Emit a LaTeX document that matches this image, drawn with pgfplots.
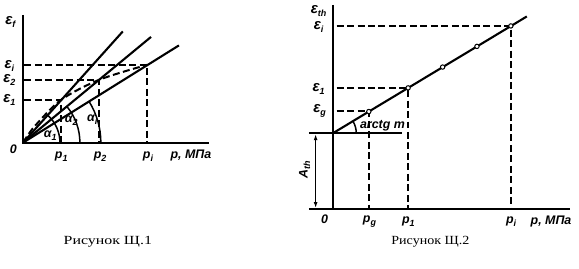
\documentclass[border=0pt]{standalone}
\usepackage{pgfplots}
\pgfplotsset{compat=1.18}
\usepackage{fontspec}
\setmainfont{Liberation Serif}
\newfontfamily\labfont{Liberation Sans}
\usetikzlibrary{arrows.meta}
\newcommand{\lb}[1]{{\labfont\bfseries\itshape\fontsize{12.5}{12.5}\selectfont #1}}
\newcommand{\eps}{{\fontsize{15}{15}\selectfont ε}}
\newcommand{\sub}[1]{\raisebox{-0.4ex}{\fontsize{9}{9}\selectfont #1}}
\newcommand{\capt}[2]{\scalebox{#1}[1]{\fontsize{12.5}{12.5}\selectfont #2}}
\begin{document}
\begin{tikzpicture}
\begin{axis}[
  width=579bp, height=269bp, scale only axis,
  xmin=0, xmax=579, ymin=0, ymax=269, y dir=reverse,
  hide axis, clip=false,
  solid line/.style={black, line width=2.1bp, line cap=butt},
  dsh/.style={black, line width=2bp, dash pattern=on 7bp off 3.5bp},
]
\path (axis cs:0,0) rectangle (axis cs:579,269);
% ---------- Figure 1 ----------
\addplot[solid line, line join=miter] coordinates {(21.7,15) (21.7,143.5) (208,143.5)};
\addplot[solid line] coordinates {(21.7,143) (121.7,31.5)};
\addplot[solid line] coordinates {(21.7,143) (150,37)};
\addplot[solid line] coordinates {(21.7,143) (178,45.5)};
\addplot[dsh, smooth] coordinates {(21.7,143) (33,127) (60,100) (98,80) (146,65)};
\addplot[dsh] coordinates {(23,100) (60,100) (60,143)};
\addplot[dsh] coordinates {(23,80) (98,80) (98,143)};
\addplot[dsh] coordinates {(23,65) (146,65) (146,143)};
\draw[line width=1.5bp] (axis cs:58.7,143) arc[start angle=0, end angle=48, radius=37bp];
\draw[line width=1.5bp] (axis cs:78.7,143) arc[start angle=0, end angle=39.5, radius=57bp];
\draw[line width=1.5bp] (axis cs:99.7,143) arc[start angle=0, end angle=32, radius=78bp];
\node at (axis cs:9,22) {\lb{\eps\sub{f}}};
\node at (axis cs:8,66) {\lb{\eps\sub{i}}};
\node at (axis cs:8,80) {\lb{\eps\sub{2}}};
\node at (axis cs:8,100) {\lb{\eps\sub{1}}};
\node at (axis cs:49,136) {\lb{α\sub{1}}};
\node at (axis cs:70,121) {\lb{α\sub{2}}};
\node at (axis cs:91,120) {\lb{α\sub{i}}};
\node at (axis cs:12,150) {\lb{0}};
\node at (axis cs:60,157) {\lb{p\sub{1}}};
\node at (axis cs:99,157) {\lb{p\sub{2}}};
\node at (axis cs:147,157) {\lb{p\sub{i}}};
\node at (axis cs:190,156) {\lb{p, МПа}};
\node at (axis cs:106.7,242) {\capt{1.28}{Рисунок Щ.1}};
% ---------- Figure 2 ----------
\addplot[solid line] coordinates {(332.7,5) (332.7,209.5)};
\addplot[solid line] coordinates {(308.3,209.5) (570,209.5)};
\addplot[solid line] coordinates {(308.3,133.3) (402,133.3)};
\addplot[black, line width=1.5bp, {Latex[length=6bp,width=4bp]}-{Latex[length=6bp,width=4bp]}] coordinates {(315,134.5) (315,208.5)};
\addplot[solid line] coordinates {(332.7,133.3) (526.7,16.5)};
\addplot[dsh] coordinates {(336,26) (510.7,26) (510.7,209)};
\addplot[dsh] coordinates {(336,88.5) (407.7,88.5) (407.7,209)};
\addplot[dsh] coordinates {(336,111.5) (368.3,111.5) (368.3,209)};
\addplot[only marks, mark=*, mark size=2.2bp, mark options={fill=white, draw=black, line width=1bp}] coordinates {(368.3,111.8) (407.7,88.1) (442.3,67.2) (476.7,46.5) (510.7,26)};
\draw[line width=1.5bp] (axis cs:355.7,133.3) arc[start angle=0, end angle=31, radius=23bp];
\node at (axis cs:318,11) {\lb{\eps\sub{th}}};
\node at (axis cs:318,27) {\lb{\eps\sub{i}}};
\node at (axis cs:318,89) {\lb{\eps\sub{1}}};
\node at (axis cs:319,111) {\lb{\eps\sub{g}}};
\node[rotate=90] at (axis cs:304,170) {\lb{A\sub{th}}};
\node at (axis cs:382,126) {\lb{arctg m}};
\node at (axis cs:324,220) {\lb{0}};
\node at (axis cs:369,222) {\lb{p\sub{g}}};
\node at (axis cs:408,222) {\lb{p\sub{1}}};
\node at (axis cs:511,222) {\lb{p\sub{i}}};
\node at (axis cs:551,222) {\lb{p, МПа}};
\node at (axis cs:430,242) {\capt{1.13}{Рисунок Щ.2}};
\end{axis}
\end{tikzpicture}
\end{document}
